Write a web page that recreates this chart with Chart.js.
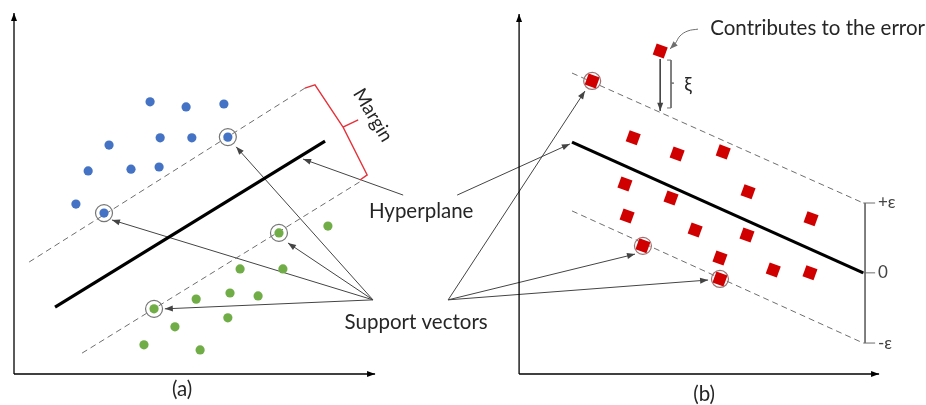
<!DOCTYPE html>
<html>
<head>
<meta charset="utf-8">
<script src="https://cdn.jsdelivr.net/npm/chart.js@4"></script>
<style>
    html, body { margin: 0; padding: 0; background: #ffffff; }
    #wrap { width: 926px; height: 405px; }
</style>
</head>
<body>
<div id="wrap"><canvas id="svmChart"></canvas></div>
<script>
//---------------------------------------------------------------------//
//-----------------------------DATA ZONE-------------------------------//
//---------------------------------------------------------------------//
// each panel has its own axes running 0..10, panel (b) sits to the right
const PANEL_B_OFFSET = 14.03;

// panel (a) : classification
const bluePoints = [[3.78, 7.56], [4.78, 7.42], [5.83, 7.50], [4.06, 6.56], [4.94, 6.56], [5.94, 6.58],
    [2.64, 6.36], [4.03, 5.75], [3.25, 5.69], [2.06, 5.64], [1.72, 4.72], [2.50, 4.47]];
const greenPoints = [[8.72, 4.11], [7.36, 3.92], [7.47, 2.92], [6.28, 2.92], [6.00, 2.25], [6.78, 2.17],
    [5.06, 2.08], [3.89, 1.81], [5.94, 1.56], [4.47, 1.31], [3.61, 0.81], [5.17, 0.67]];
const supportVectorsA = [[5.94, 6.58], [2.50, 4.47], [7.36, 3.92], [3.89, 1.81]];
const hyperplaneA = [[1.14, 1.86], [8.64, 6.47]];
const marginUpperA = [[0.42, 3.11], [8.08, 7.94]];
const marginLowerA = [[1.89, 0.58], [9.69, 5.39]];
const marginBracket = [[8.08, 7.94], [8.36, 8.03], [9.14, 6.86], [9.56, 7.06], [9.14, 6.86], [9.81, 5.53], [9.61, 5.39]];

// panel (b) : regression (coords relative to panel b axes)
const redPoints = [[3.92, 8.97], [2.03, 8.14], [3.17, 6.56], [4.39, 6.11], [5.67, 6.17], [2.94, 5.28],
    [4.22, 4.89], [6.36, 5.06], [3.00, 4.39], [8.11, 4.31], [4.89, 4.00], [6.33, 3.86], [3.44, 3.56],
    [5.58, 3.22], [7.06, 2.89], [8.08, 2.81], [5.58, 2.64]];
const supportVectorsB = [[2.03, 8.14], [3.44, 3.56], [5.58, 2.64]];
const hyperplaneB = [[1.47, 6.44], [9.56, 2.81]];
const tubeUpperB = [[1.47, 8.36], [9.56, 4.75]];
const tubeLowerB = [[1.47, 4.53], [9.56, 0.86]];
const errorDrop = [[3.92, 8.75], [3.92, 7.31]];
const xiBracket = [[4.11, 8.72], [4.22, 8.72], [4.22, 8.08], [4.30, 8.08], [4.22, 8.08], [4.22, 7.39], [4.11, 7.39]];
const errorPointer = [[4.97, 9.58], [4.69, 9.53], [4.47, 9.39], [4.33, 9.17], [4.19, 9.03]];
const epsilonTicks = ['+ε', '0', '-ε'];
const epsilonLevels = [4.75, 2.81, 0.86];

// callouts (label anchors in panel a coords, targets in their own panel)
const hyperplaneLabelAt = [11.31, 4.53];
const hyperplaneFromA = [10.81, 4.97];
const hyperplaneFromB = [12.31, 4.97];
const hyperplaneTipB = [1.41, 6.39];
const supportLabelAt = [11.17, 1.42];
const supportApexA = [9.97, 2.06];
const supportApexB = [12.06, 2.06];
const supportTipsA = [[6.17, 6.31], [2.72, 4.28], [7.61, 3.64], [4.19, 1.81]];
const supportTipsB = [[1.83, 7.86], [3.22, 3.33], [5.25, 2.61]];

//---------------------------------------------------------------------//
//--------------------------BUILD ZONE---------------------------------//
//---------------------------------------------------------------------//
const toXY = pts => pts.map(p => ({ x: p[0], y: p[1] }));
const toB = pts => pts.map(p => [p[0] + PANEL_B_OFFSET, p[1]]);

const INK = '#333333';
const GREY = '#6e6e6e';

function lineSet(pts, opts) {
    return Object.assign({
        type: 'scatter',
        data: toXY(pts),
        showLine: true,
        pointRadius: 0,
        borderColor: INK,
        borderWidth: 1,
        order: 5
    }, opts || {});
}

const datasets = [];

// points
datasets.push({ type: 'scatter', data: toXY(bluePoints), pointRadius: 4.6, pointStyle: 'circle',
    backgroundColor: '#4472c4', borderWidth: 0, order: 1 });
datasets.push({ type: 'scatter', data: toXY(greenPoints), pointRadius: 4.6, pointStyle: 'circle',
    backgroundColor: '#70ad47', borderWidth: 0, order: 1 });
datasets.push({ type: 'scatter', data: toXY(toB(redPoints)), pointRadius: 8.3, pointStyle: 'rect', rotation: 20,
    backgroundColor: '#d00000', borderWidth: 0, order: 1 });
// rings around support vectors
datasets.push({ type: 'scatter', data: toXY(supportVectorsA), pointRadius: 8.5,
    backgroundColor: 'rgba(0,0,0,0)', borderColor: '#767676', borderWidth: 1.2, order: 0 });
datasets.push({ type: 'scatter', data: toXY(toB(supportVectorsB)), pointRadius: 8.5,
    backgroundColor: 'rgba(0,0,0,0)', borderColor: '#a07070', borderWidth: 1.2, order: 0 });

// axes
datasets.push(lineSet([[0, 0], [0, 10.03]], { borderColor: '#000', borderWidth: 1.3, arrowEnd: true }));
datasets.push(lineSet([[0, 0], [10.03, 0]], { borderColor: '#000', borderWidth: 1.3, arrowEnd: true }));
datasets.push(lineSet(toB([[0, 0], [0, 10.0]]), { borderColor: '#000', borderWidth: 1.3, arrowEnd: true }));
datasets.push(lineSet(toB([[0, 0], [10.0, 0]]), { borderColor: '#000', borderWidth: 1.3, arrowEnd: true }));

// hyperplanes and margins
datasets.push(lineSet(hyperplaneA, { borderColor: '#000', borderWidth: 3.2, order: 3 }));
datasets.push(lineSet(toB(hyperplaneB), { borderColor: '#000', borderWidth: 3.2, order: 3 }));
[marginUpperA, marginLowerA, toB(tubeUpperB), toB(tubeLowerB)].forEach(pts => {
    datasets.push(lineSet(pts, { borderColor: GREY, borderDash: [6, 4] }));
});
datasets.push(lineSet(marginBracket, { borderColor: '#e5323a', borderWidth: 1.4 }));

// epsilon bracket
datasets.push(lineSet(toB([[9.61, epsilonLevels[0]], [9.61, epsilonLevels[2]]]), { borderColor: GREY }));
epsilonLevels.forEach(lv => {
    datasets.push(lineSet(toB([[9.56, lv], [9.89, lv]]), { borderColor: GREY }));
});

// slack variable
datasets.push(lineSet(toB(errorDrop), { borderColor: '#444', arrowEnd: true }));
datasets.push(lineSet(toB(xiBracket), { borderColor: GREY }));
datasets.push(lineSet(toB(errorPointer), { borderColor: GREY, tension: 0.4, arrowEnd: true }));

// callout arrows
datasets.push(lineSet([hyperplaneFromA, [8.03, 5.97]], { borderColor: '#444', arrowEnd: true }));
datasets.push(lineSet([hyperplaneFromB, toB([hyperplaneTipB])[0]], { borderColor: '#444', arrowEnd: true }));
supportTipsA.forEach(t => datasets.push(lineSet([supportApexA, t], { borderColor: '#444', arrowEnd: true })));
toB(supportTipsB).forEach(t => datasets.push(lineSet([supportApexB, t], { borderColor: '#444', arrowEnd: true })));

//---------------------------------------------------------------------//
//--------------------------PLUGINS ZONE-------------------------------//
//---------------------------------------------------------------------//
function drawArrowHead(ctx, x0, y0, x1, y1, color) {
    const ang = Math.atan2(y1 - y0, x1 - x0);
    const len = 8, half = 3;
    ctx.save();
    ctx.fillStyle = color;
    ctx.translate(x1, y1);
    ctx.rotate(ang);
    ctx.beginPath();
    ctx.moveTo(0, 0);
    ctx.lineTo(-len, -half);
    ctx.lineTo(-len, half);
    ctx.closePath();
    ctx.fill();
    ctx.restore();
}

const arrowHeads = {
    id: 'arrowHeads',
    afterDatasetsDraw(chart) {
        chart.data.datasets.forEach((ds, i) => {
            if (!ds.arrowEnd) return;
            const pts = chart.getDatasetMeta(i).data;
            const a = pts[pts.length - 2], b = pts[pts.length - 1];
            drawArrowHead(chart.ctx, a.x, a.y, b.x, b.y, ds.borderColor);
        });
    }
};

function drawLabel(chart, text, pos, opts) {
    const ctx = chart.ctx;
    const px = chart.scales.x.getPixelForValue(pos[0]);
    const py = chart.scales.y.getPixelForValue(pos[1]);
    ctx.save();
    ctx.font = (opts.size || 20.5) + 'px Lato, "Open Sans", sans-serif';
    ctx.fillStyle = opts.color || '#262626';
    ctx.textAlign = opts.align || 'center';
    ctx.textBaseline = 'middle';
    ctx.translate(px, py);
    if (opts.rotation) ctx.rotate(opts.rotation * Math.PI / 180);
    ctx.fillText(text, 0, 0);
    ctx.restore();
}

const diagramLabels = {
    id: 'diagramLabels',
    afterDraw(chart) {
        drawLabel(chart, 'Hyperplane', hyperplaneLabelAt, {});
        drawLabel(chart, 'Support vectors', supportLabelAt, {});
        drawLabel(chart, 'Margin', [9.97, 7.19], { rotation: 59, size: 19 });
        drawLabel(chart, '(a)', [4.67, -0.44], {});
        drawLabel(chart, '(b)', toB([[5.14, -0.56]])[0], {});
        drawLabel(chart, 'Contributes to the error', toB([[5.31, 9.61]])[0], { align: 'left' });
        drawLabel(chart, 'ξ', toB([[4.69, 8.03]])[0], { size: 19 });
        epsilonTicks.forEach((t, i) => {
            drawLabel(chart, t, toB([[9.97, epsilonLevels[i]]])[0], { align: 'left', size: 17, color: '#444' });
        });
    }
};

//---------------------------------------------------------------------//
//---------------------------CHART ZONE--------------------------------//
//---------------------------------------------------------------------//
const ctx = document.getElementById('svmChart').getContext('2d');
const chart = new Chart(ctx, {
    type: 'scatter',
    data: { datasets: datasets },
    options: {
        responsive: true,
        maintainAspectRatio: false,
        animation: false,
        layout: { padding: 0, autoPadding: false },
        plugins: { legend: { display: false }, tooltip: { enabled: false } },
        scales: {
            x: { type: 'linear', min: -0.389, max: 25.333, display: false },
            y: { type: 'linear', min: -0.861, max: 10.389, display: false }
        }
    },
    plugins: [arrowHeads, diagramLabels]
});
</script>
</body>
</html>
